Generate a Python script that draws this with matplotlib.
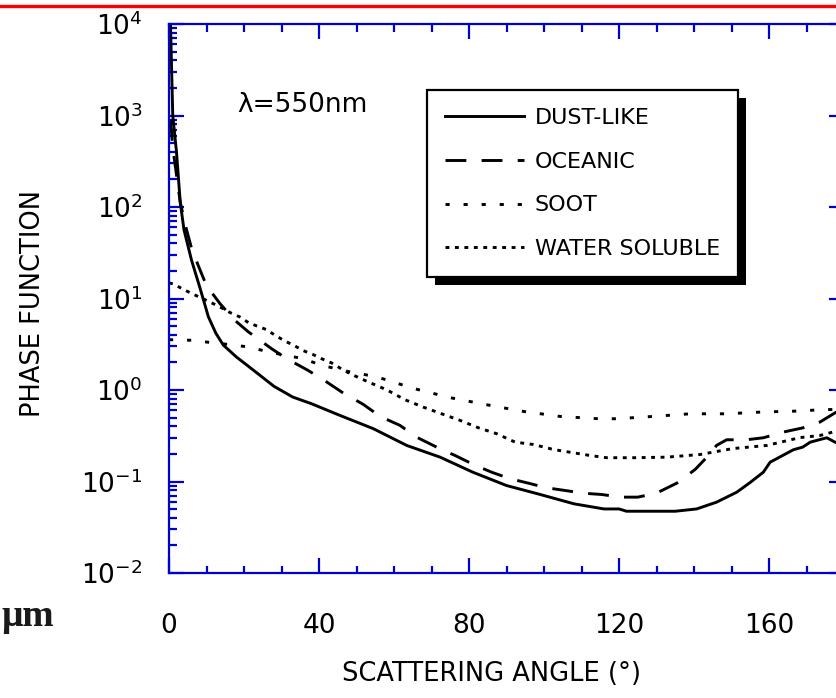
import numpy as np
import matplotlib
matplotlib.use("Agg")
import matplotlib.pyplot as plt
from matplotlib.lines import Line2D
from matplotlib.patches import Rectangle
from matplotlib.ticker import LogLocator, MultipleLocator, FixedLocator

plt.rcParams['font.family'] = ['DejaVu Sans']
plt.rcParams['axes.unicode_minus'] = False
plt.rcParams['lines.scale_dashes'] = False

# phase function curves, angle in degrees, value as log10
dust_ang = [0.4, 1, 2, 3, 4, 6, 8.3, 10.5, 12.5, 14.5, 18, 22, 28, 33, 38, 45.6, 54.5,
            63.4, 72.3, 81, 90, 99, 108, 116, 120, 122, 135, 140.7, 146, 151.4, 155,
            158.5, 160.3, 166.5, 169, 171, 175.4, 177.6, 180]
dust_log = [4.0, 3.0, 2.6, 2.05, 1.75, 1.42, 1.11, 0.8, 0.62, 0.49, 0.36, 0.233, 0.04,
            -0.077, -0.15, -0.278, -0.423, -0.606, -0.734, -0.898, -1.044, -1.142,
            -1.244, -1.30, -1.30, -1.325, -1.325, -1.30, -1.226, -1.117, -1.01, -0.898,
            -0.789, -0.653, -0.624, -0.57, -0.522, -0.57, -0.6]

oce_ang = [0.4, 1, 2, 3, 4.5, 6, 7.8, 10, 13.6, 17.6, 21.2, 27.4, 31.4, 37.1, 41.6, 46.7,
           51.8, 56.3, 61.6, 66, 71.4, 76.3, 81.2, 86, 91, 95.8, 100.7, 105.6, 110.5,
           115.4, 120.3, 125, 128.3, 130.5, 135.4, 140.3, 144.3, 146, 148.7, 154, 158.5,
           163.8, 169.1, 173.6, 177.6, 180]
oce_log = [2.95, 2.65, 2.35, 2.05, 1.78, 1.55, 1.36, 1.14, 0.944, 0.76, 0.634, 0.45,
           0.342, 0.214, 0.10, -0.04, -0.157, -0.289, -0.387, -0.515, -0.625, -0.716,
           -0.814, -0.898, -0.97, -1.018, -1.069, -1.098, -1.128, -1.142, -1.171, -1.171,
           -1.142, -1.117, -1.018, -0.869, -0.697, -0.606, -0.544, -0.544, -0.522, -0.46,
           -0.413, -0.35, -0.25, -0.2]

soot_ang = [0, 6.5, 11.4, 16.3, 21.2, 26, 31, 35.8, 40.7, 48, 55.4, 65.2, 75, 84.7, 94.5,
            104.3, 114.5, 119.4, 129, 139, 148.7, 158.4, 168, 173.6, 180]
soot_log = [0.55, 0.543, 0.517, 0.496, 0.47, 0.422, 0.38, 0.342, 0.27, 0.2, 0.144, 0.017,
            -0.084, -0.161, -0.234, -0.289, -0.314, -0.314, -0.289, -0.26, -0.26, -0.24,
            -0.23, -0.216, -0.21]

ws_ang = [0, 1.2, 3.8, 6.5, 10.9, 13.6, 16.3, 18.9, 21.2, 23.4, 26, 28.3, 30.9, 33.2, 35.8,
          38.5, 40.7, 43.4, 45.6, 48.3, 53.2, 58, 62.9, 67.8, 72.7, 77.6, 82.5, 87.4, 92.3,
          97.1, 102.5, 106.9, 112.3, 116.7, 124, 132.7, 141.6, 150.4, 159.4, 168.3, 173.6,
          177, 180]
ws_log = [1.17, 1.159, 1.10, 1.046, 0.962, 0.907, 0.846, 0.798, 0.736, 0.70, 0.66, 0.598,
          0.535, 0.49, 0.43, 0.386, 0.342, 0.295, 0.24, 0.178, 0.087, 0.003, -0.106, -0.187,
          -0.26, -0.332, -0.413, -0.478, -0.57, -0.595, -0.65, -0.68, -0.716, -0.74, -0.74,
          -0.734, -0.705, -0.64, -0.606, -0.52, -0.497, -0.46, -0.44]

labels = ['DUST-LIKE', 'OCEANIC', 'SOOT', 'WATER SOLUBLE']
x_ticks = [0, 40, 80, 120, 160]

blue = '#0000D2'
W, H = 836, 698

fig = plt.figure(figsize=(W / 100, H / 100), dpi=100)
ax = fig.add_axes([169 / W, 1 - 573 / H, 675 / W, 549 / H])

lw = 2.1
l1, = ax.plot(dust_ang, 10 ** np.array(dust_log), color='black', lw=lw, ls='-')
l2, = ax.plot(oce_ang, 10 ** np.array(oce_log), color='black', lw=lw, ls=(0, (15, 11)))
l3, = ax.plot(soot_ang, 10 ** np.array(soot_log), color='black', lw=lw, ls=(0, (3, 10)))
l4, = ax.plot(ws_ang, 10 ** np.array(ws_log), color='black', lw=lw, ls=(0, (2.8, 4)))

ax.set_yscale('log')
ax.set_xlim(0, 180)
ax.set_ylim(1e-2, 1e4)
ax.xaxis.set_major_locator(FixedLocator(x_ticks))
ax.xaxis.set_minor_locator(MultipleLocator(10))
ax.yaxis.set_major_locator(LogLocator(base=10, numticks=10))
ax.yaxis.set_minor_locator(LogLocator(base=10, subs=np.arange(2, 10), numticks=20))

for s in ax.spines.values():
    s.set_color(blue)
    s.set_linewidth(1.6)
ax.tick_params(which='both', direction='in', color=blue, top=True, right=True, width=1.6)
ax.tick_params(which='major', length=10.8)
ax.tick_params(which='minor', length=5.4)
ax.tick_params(axis='x', which='major', labelsize=19, pad=29)
ax.tick_params(axis='y', which='major', labelsize=19, pad=19)

ax.set_xlabel('SCATTERING ANGLE (°)', fontsize=18.5)
ax.xaxis.set_label_coords(0.4785, -0.160)
ax.set_ylabel('PHASE FUNCTION', fontsize=18.5)
ax.yaxis.label.set_va('center')
ax.yaxis.set_label_coords(-0.2015, 0.49)

leg = ax.legend([l1, l2, l3, l4], labels, loc='upper left',
                bbox_to_anchor=(427 / W, 1 - 90 / H), bbox_transform=fig.transFigure,
                borderaxespad=0, fontsize=16, handlelength=3.55, handletextpad=0.5,
                labelspacing=1.07, borderpad=0.8, fancybox=False, framealpha=1,
                edgecolor='black')
leg.get_frame().set_linewidth(1.6)
leg.set_zorder(5)

# drop shadow behind the legend box
fig.canvas.draw()
bb = leg.get_frame().get_window_extent()
shadow = Rectangle((bb.x0 + 8, bb.y0 - 8), bb.width, bb.height, transform=None,
                   facecolor='black', edgecolor='none', zorder=4.9, clip_on=False)
ax.add_artist(shadow)

fig.text(237 / W, 1 - 105 / H, 'λ=550nm', fontsize=19, va='center', ha='left')
fig.text(1 / W, 1 - 617 / H, 'μm', fontsize=27, fontweight='bold',
         family='Liberation Serif', va='center', ha='left', color='#1a1a1a')
fig.add_artist(Line2D([0, 1], [1 - 5.5 / H, 1 - 5.5 / H], color='red', lw=2.4,
                      transform=fig.transFigure))

fig.savefig('out.png', dpi=100)
